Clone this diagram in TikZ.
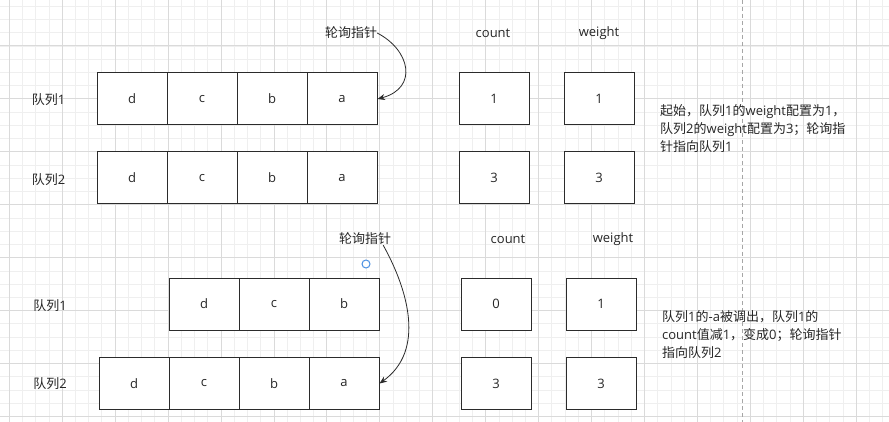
\documentclass[tikz,border=0pt]{standalone}
\usepackage{fontspec}
\setmainfont{Open Sans}
\newfontfamily\cjkfont{Noto Sans CJK SC}
\usetikzlibrary{arrows.meta}
\definecolor{gridminor}{HTML}{EFEFEF}
\definecolor{gridmajor}{HTML}{DADADA}
\definecolor{boxline}{HTML}{2B2B2B}
\definecolor{hoverblue}{HTML}{4A90E2}
\newcommand{\zh}[1]{{\cjkfont #1}}
\tikzset{
  cell/.style={draw=boxline, fill=white, line width=1pt, minimum width=70pt, minimum height=52pt, inner sep=0pt, font=\fontsize{13}{16}\selectfont, text=black!85},
  lbl/.style={inner sep=0pt, font=\fontsize{13}{18}\selectfont, text=black!85},
  ptr/.style={draw=boxline, line width=0.8pt, -{Stealth[length=7.5pt,width=6pt]}},
}

\begin{document}
\begin{tikzpicture}[x=1pt, y=-1pt]
        \useasboundingbox (0,0) rectangle (889,422);
        \fill[white] (0,0) rectangle (889,422);
        \begin{scope}
          \clip (0,0) rectangle (889,422);
          \foreach \k in {0,...,66} \draw[gridminor, line width=1pt] ({9.3+13.235*\k},0) -- ++(0,422);
          \foreach \k in {0,...,31} \draw[gridminor, line width=1pt] (0,{6.3+13.235*\k}) -- ++(889,0);
          \foreach \k in {0,...,16} \draw[gridmajor, line width=1pt] ({9.3+52.94*\k},0) -- ++(0,422);
          \foreach \k in {0,...,7} \draw[gridmajor, line width=1pt] (0,{46+52.94*\k}) -- ++(889,0);
        \end{scope}
        \draw[black!35, line width=1pt, dash pattern=on 4pt off 3pt] (742.3,0) -- (742.3,422);

        \node[lbl] (tptr) at (351,33) {\zh{轮询指针}};
        \node[lbl] (tcount) at (493,33) {count};
        \node[lbl] (tweight) at (599,33) {weight};
        \node[lbl] (tq1) at (48.5,100) {\zh{队列}1};
        \node[lbl] (tq2) at (48.5,180) {\zh{队列}2};
        \foreach \t [count=\i] in {d,c,b,a} \node[cell] (t1\t) at ({62+70*\i},99) {\t};
        \foreach \t [count=\i] in {d,c,b,a} \node[cell] (t2\t) at ({62+70*\i},178) {\t};
        \node[cell] (t1cnt) at (494,99) {1};
        \node[cell] (t1wt) at (599,99) {1};
        \node[cell] (t2cnt) at (494,178) {3};
        \node[cell] (t2wt) at (599,178) {3};
        \node[lbl, anchor=west, align=left] (tnote) at (660,129) {\zh{起始，队列}1\zh{的}weight\zh{配置为}1\zh{，}\\\zh{队列}2\zh{的}weight\zh{配置为}3\zh{；轮询指}\\\zh{针指向队列}1};
        \draw[ptr] (tptr.east) .. controls +(33,17) and +(41,-11) .. (t1a.east);

        \node[lbl] (bptr) at (365,239) {\zh{轮询指针}};
        \node[lbl] (bcount) at (508,239) {count};
        \node[lbl] (bweight) at (613,239) {weight};
        \node[draw=hoverblue, circle, fill=white, minimum size=8pt, inner sep=0pt, line width=1pt] (hover) at (366,264) {};
        \node[lbl] (bq1) at (50,306) {\zh{队列}1};
        \node[lbl] (bq2) at (50,384) {\zh{队列}2};
        \foreach \t [count=\i] in {d,c,b} \node[cell] (b1\t) at ({134+70*\i},304) {\t};
        \foreach \t [count=\i] in {d,c,b,a} \node[cell] (b2\t) at ({64+70*\i},383.5) {\t};
        \node[cell] (b1cnt) at (496,304) {0};
        \node[cell] (b1wt) at (601,304) {1};
        \node[cell] (b2cnt) at (496,383.5) {3};
        \node[cell] (b2wt) at (601,383.5) {3};
        \node[lbl, anchor=west, align=left] (bnote) at (662,335) {\zh{队列}1\zh{的}-a\zh{被调出，队列}1\zh{的}\\count\zh{值减}1\zh{，变成}0\zh{；轮询指针}\\\zh{指向队列}2};
        \draw[ptr] ([xshift=-8pt]bptr.south east) .. controls +(25,45) and +(46,-33) .. (b2a.east);
\end{tikzpicture}
\end{document}
